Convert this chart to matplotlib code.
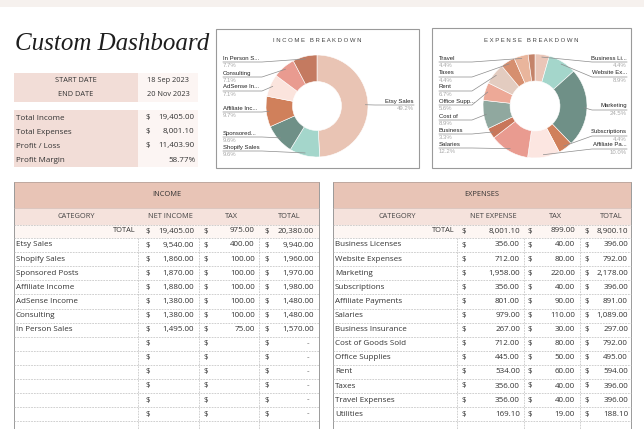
import math
import matplotlib
matplotlib.use("Agg")
import matplotlib.pyplot as plt
from matplotlib.patches import Rectangle

# ---- data ----
start_date = "18 Sep 2023"
end_date = "20 Nov 2023"
summary_labels = ["Total Income", "Total Expenses", "Profit / Loss", "Profit Margin"]

income_cats = ["Etsy Sales", "Shopify Sales", "Sponsored Posts", "Affiliate Income",
               "AdSense Income", "Consulting", "In Person Sales"]
income_short = ["Etsy Sales", "Shopify Sales", "Sponsored...", "Affiliate Inc...",
                "AdSense In...", "Consulting", "In Person S..."]
income_net = [9540.00, 1860.00, 1870.00, 1880.00, 1380.00, 1380.00, 1495.00]
income_tax = [400.00, 100.00, 100.00, 100.00, 100.00, 100.00, 75.00]

expense_cats = ["Business Licenses", "Website Expenses", "Marketing", "Subscriptions",
                "Affiliate Payments", "Salaries", "Business Insurance", "Cost of Goods Sold",
                "Office Supplies", "Rent", "Taxes", "Travel Expenses", "Utilities"]
expense_short = ["Business Li...", "Website Ex...", "Marketing", "Subscriptions",
                 "Affiliate Pa...", "Salaries", "Business", "Cost of",
                 "Office Supp...", "Rent", "Taxes", "Travel", ""]
expense_net = [356.00, 712.00, 1958.00, 356.00, 801.00, 979.00, 267.00, 712.00,
               445.00, 534.00, 356.00, 356.00, 169.10]
expense_tax = [40.00, 80.00, 220.00, 40.00, 90.00, 110.00, 30.00, 80.00,
               50.00, 60.00, 40.00, 40.00, 19.00]

# ---- style ----
income_colors = ["#e9c4b4", "#a4d6cb", "#6f9087", "#d0805b", "#fbe4dd", "#e99b90", "#c47a60"]
expense_colors = ["#eac6b8", "#a4d6cb", "#6f9087", "#d0805b", "#fce6e1", "#e99b90",
                  "#c8765a", "#90a89f", "#eda997", "#e3ccc0", "#d68f6f", "#e9b59c", "#c4836a"]
# label layout: (side, y) per slice, in pixels
income_lab = [("R", 101), ("L", 147), ("L", 133), ("L", 108), ("L", 87), ("L", 73), ("L", 58)]
expense_lab = [("R", 58), ("R", 73), ("R", 106), ("R", 132), ("R", 145), ("L", 144),
               ("L", 130), ("L", 116), ("L", 101), ("L", 87), ("L", 73), ("L", 58), None]

TXT = "#333333"
GRID = "#bdbdbd"
TFONT = "Open Sans"
LFONT = "Liberation Sans"

W, H = 644, 429
fig = plt.figure(figsize=(W / 100, H / 100), dpi=100)
ax = fig.add_axes([0, 0, 1, 1])
ax.set_xlim(0, W)
ax.set_ylim(H, 0)
ax.axis("off")


def money(v):
    return f"{v:,.2f}"


def rect(x0, y0, x1, y1, color, **kw):
    ax.add_patch(Rectangle((x0, y0), x1 - x0, y1 - y0, facecolor=color, edgecolor="none", **kw))


def t(x, y, s, ha="left", size=5.8, color=TXT, family=TFONT, **kw):
    ax.text(x, y, s, ha=ha, va="center", fontsize=size, color=color, family=family, **kw)


# top strip
rect(0, 0, W, 7, "#f6f1ee")

# title
ax.text(15, 50, "Custom Dashboard", fontsize=18, family="Liberation Serif", style="italic",
        color="#1e1e1e", ha="left", va="baseline")

# date box
rect(14, 73, 138, 102, "#f2ddd7")
rect(138, 73, 198, 102, "#fcf5f3")
t(76, 80, "START DATE", ha="center", size=5.3)
t(76, 94, "END DATE", ha="center", size=5.3)
t(168, 80, start_date, ha="center", size=5.3)
t(168, 94, end_date, ha="center", size=5.3)

# summary box
tot_inc = sum(income_net)
tot_exp = sum(expense_net)
profit = tot_inc - tot_exp
summary_values = [money(tot_inc), money(tot_exp), money(profit), f"{profit / tot_inc * 100:.2f}%"]
rect(14, 110, 138, 167, "#f2ddd7")
rect(138, 110, 198, 167, "#fcf5f3")
for i, (lab, val) in enumerate(zip(summary_labels, summary_values)):
    y = 118 + 14 * i
    t(16, y, lab, size=5.8)
    if i < 3:
        t(146, y, "$", size=5.8)
        t(194, y, val, ha="right", size=5.8)
    else:
        t(196, y, val, ha="right", size=5.8)


# ---- donuts ----
def donut(box, title, values, colors, short, layout, cx, cy, r, bend_l, bend_r, right_x):
    bx0, by0, bx1, by1 = box
    ax.add_patch(Rectangle((bx0, by0), bx1 - bx0, by1 - by0, facecolor="white",
                           edgecolor="#9a9a9a", linewidth=0.8))
    spaced = "   ".join(" ".join(w) for w in title.split(" "))
    t((bx0 + bx1) / 2, 41, spaced, ha="center", size=4.3, color="#444444", family=LFONT)
    ax.pie(values, colors=colors, center=(cx, cy), radius=r, startangle=-90,
           counterclock=True, frame=True,
           wedgeprops=dict(width=r * 0.52, edgecolor="white", linewidth=0.4))
    total = sum(values)
    cum = 0
    for v, name, lay in zip(values, short, layout):
        mid = (cum + v / 2) / total
        cum += v
        if lay is None:
            continue
        side, ly = lay
        ang = math.radians(-90 + 360 * mid)
        axp = cx + 0.95 * r * math.cos(ang)
        ayp = cy + 0.95 * r * math.sin(ang)
        pct = f"{v / total * 100:.1f}%"
        if side == "L":
            lx = bx0 + 7
            ax.plot([lx, bend_l, axp], [ly + 4, ly + 4, ayp], color="#8c8c8c", lw=0.5, zorder=5)
            t(lx, ly, name, size=4.3, family=LFONT, color="#222222", zorder=6)
            t(lx, ly + 7.5, pct, size=4.3, family=LFONT, color="#a8a8a8", zorder=6)
        else:
            ax.plot([axp, bend_r, right_x], [ayp, ly + 4, ly + 4], color="#8c8c8c", lw=0.5, zorder=5)
            t(right_x, ly, name, ha="right", size=4.3, family=LFONT, color="#222222", zorder=6)
            t(right_x, ly + 7.5, pct, ha="right", size=4.3, family=LFONT, color="#a8a8a8", zorder=6)


donut((216, 29, 419, 168), "INCOME BREAKDOWN", income_net, income_colors, income_short,
      income_lab, 317, 106, 51, 262, 375, 414)
donut((432, 28, 631, 168), "EXPENSE BREAKDOWN", expense_net, expense_colors, expense_short,
      expense_lab, 535, 106, 52, 472, 592, 627)


# ---- tables ----
def table(x0, x1, title, head2, cats, net, tax, c):
    div1, d1, v1, div2, d2, v2, div3, d3, v3, hc = c
    rect(x0, 182, x1, 208, "#e8c4b6")
    rect(x0, 208, x1, 225, "#f5e2dc")
    rect(x0, 225, x1, 238, "#fdf6f3")
    t((x0 + x1) / 2, 195, title, ha="center", size=5.3)
    for hx, hs in zip(hc, ["CATEGORY", head2, "TAX", "TOTAL"]):
        t(hx, 217, hs, ha="center", size=5.3, color="#444444")
    ax.plot([x0, x0], [182, H], color="#9a9a9a", lw=0.7)
    ax.plot([x1, x1], [182, H], color="#9a9a9a", lw=0.7)
    ax.plot([x0, x1], [182, 182], color="#b9a49c", lw=0.6)
    ax.plot([x0, x1], [208, 208], color="#c9b3ab", lw=0.4)
    ln = dict(color=GRID, lw=0.5, ls=(0, (2.5, 1.5)))
    ax.plot([x0, x1], [225, 225], **ln)
    # total row
    tn, tt = sum(net), sum(tax)
    t(div1 - 2, 231, "TOTAL", ha="right", size=5.3)
    for dx, vx, val in [(d1, v1, tn), (d2, v2, tt), (d3, v3, tn + tt)]:
        t(dx, 231, "$")
        t(vx, 231, money(val), ha="right")
    step = 14.1
    i = 0
    while 238 + step * i < H:
        ytop = 238 + step * i
        ax.plot([x0, x1], [ytop, ytop], **ln)
        yc = ytop + 7
        if i < len(cats):
            t(x0 + 2, yc, cats[i])
            for dx, vx, val in [(d1, v1, net[i]), (d2, v2, tax[i]), (d3, v3, net[i] + tax[i])]:
                t(dx, yc, "$")
                t(vx, yc, money(val), ha="right")
        elif yc < H - 4:
            for dx in (d1, d2, d3):
                t(dx, yc, "$")
            t(v3 - 6, yc, "-", ha="center", color="#666666")
        i += 1
    for dv in (div1, div2, div3):
        ax.plot([dv, dv], [238, H], **ln)


table(14, 319, "INCOME", "NET INCOME", income_cats, income_net, income_tax,
      (138, 146, 194, 199, 204, 255, 259, 265, 314, (76, 170, 231, 289)))
table(333, 631, "EXPENSES", "NET EXPENSE", expense_cats, expense_net, expense_tax,
      (457, 462, 520, 524, 528, 575, 580, 585, 628, (397, 493, 555, 611)))

ax.set_xlim(0, W)
ax.set_ylim(H, 0)
ax.set_aspect("auto")
ax.axis("off")

fig.savefig("out.png", dpi=100)
